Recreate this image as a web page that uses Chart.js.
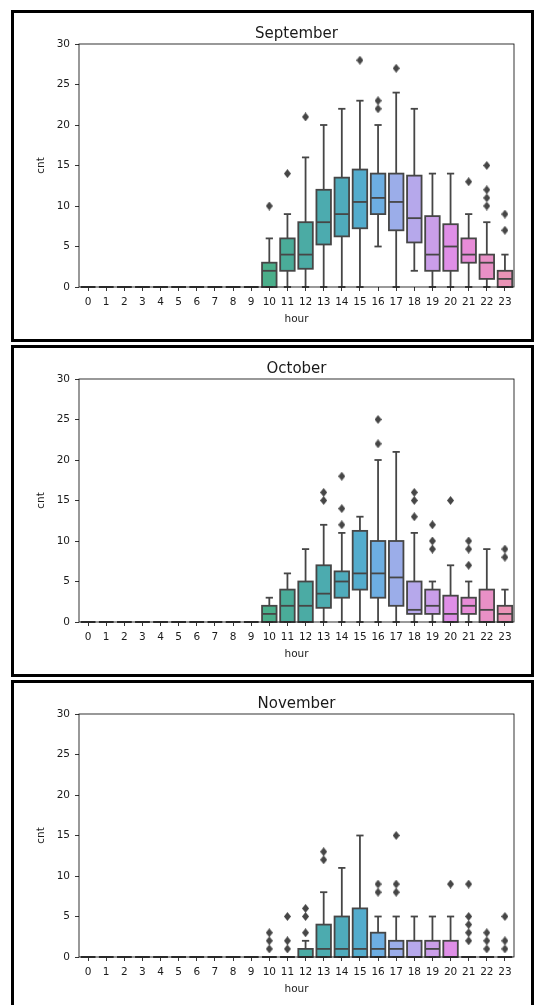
<!DOCTYPE html>
<html>
<head>
<meta charset="utf-8">
<script src="https://cdn.jsdelivr.net/npm/chart.js@4.4.0/dist/chart.umd.min.js"></script>
<style>
  body { margin: 0; background: #fff; width: 534px; height: 1005px; overflow: hidden; position: relative; }
  .frame { position: absolute; left: 11px; width: 523px; border: 3px solid #000; box-sizing: border-box; }
  .panel { position: absolute; left: 0; width: 534px; height: 325px; }
</style>
</head>
<body>
<div class="frame" style="top:10px;height:332px"></div>
<div class="frame" style="top:345px;height:332px"></div>
<div class="frame" style="top:680px;height:400px"></div>
<div class="panel" style="top:10px"><canvas id="sep" width="534" height="325"></canvas></div>
<div class="panel" style="top:345px"><canvas id="oct" width="534" height="325"></canvas></div>
<div class="panel" style="top:680px"><canvas id="nov" width="534" height="325"></canvas></div>
<script>
// ---- data ----
const hours = ['0','1','2','3','4','5','6','7','8','9','10','11','12','13','14','15','16','17','18','19','20','21','22','23'];

// September
const sepQ1  = [0,0,0,0,0,0,0,0,0,0, 0, 2, 2.25, 5.25, 6.25, 7.25, 9, 7, 5.5, 2, 2, 3, 1, 0];
const sepMed = [0,0,0,0,0,0,0,0,0,0, 2, 4, 4, 8, 9, 10.5, 11, 10.5, 8.5, 4, 5, 4, 3, 1];
const sepQ3  = [0,0,0,0,0,0,0,0,0,0, 3, 6, 8, 12, 13.5, 14.5, 14, 14, 13.75, 8.75, 7.75, 6, 4, 2];
const sepLo  = [0,0,0,0,0,0,0,0,0,0, 0, 0, 0, 0, 0, 0, 5, 0, 2, 0, 0, 0, 0, 0];
const sepHi  = [0,0,0,0,0,0,0,0,0,0, 6, 9, 16, 20, 22, 23, 20, 24, 22, 14, 14, 9, 8, 4];
const sepOut = [[],[],[],[],[],[],[],[],[],[], [10], [14], [21], [], [], [28], [22,23], [27], [], [], [], [13], [10,11,12,15], [7,9]];

// October
const octQ1  = [0,0,0,0,0,0,0,0,0,0, 0, 0, 0, 1.75, 3, 4, 3, 2, 1, 1, 0, 1, 0, 0];
const octMed = [0,0,0,0,0,0,0,0,0,0, 1, 2, 2, 3.5, 5, 6, 6, 5.5, 1.5, 2, 1, 2, 1.5, 1];
const octQ3  = [0,0,0,0,0,0,0,0,0,0, 2, 4, 5, 7, 6.25, 11.25, 10, 10, 5, 4, 3.25, 3, 4, 2];
const octLo  = [0,0,0,0,0,0,0,0,0,0, 0, 0, 0, 0, 0, 0, 0, 0, 0, 0, 0, 0, 0, 0];
const octHi  = [0,0,0,0,0,0,0,0,0,0, 3, 6, 9, 12, 11, 13, 20, 21, 11, 5, 7, 5, 9, 4];
const octOut = [[],[],[],[],[],[],[],[],[],[], [], [], [], [15,16], [12,14,18], [], [22,25], [], [13,15,16], [9,10,12], [15], [7,9,10], [], [8,9]];

// November
const novQ1  = [0,0,0,0,0,0,0,0,0,0, 0, 0, 0, 0, 0, 0, 0, 0, 0, 0, 0, 0, 0, 0];
const novMed = [0,0,0,0,0,0,0,0,0,0, 0, 0, 0, 1, 1, 1, 1, 1, 0, 1, 0, 0, 0, 0];
const novQ3  = [0,0,0,0,0,0,0,0,0,0, 0, 0, 1, 4, 5, 6, 3, 2, 2, 2, 2, 0, 0, 0];
const novLo  = [0,0,0,0,0,0,0,0,0,0, 0, 0, 0, 0, 0, 0, 0, 0, 0, 0, 0, 0, 0, 0];
const novHi  = [0,0,0,0,0,0,0,0,0,0, 0, 0, 2, 8, 11, 15, 5, 5, 5, 5, 5, 0, 0, 0];
const novOut = [[],[],[],[],[],[],[],[],[],[], [1,2,3], [1,2,5], [3,5,6], [12,13], [], [], [8,9], [8,9,15], [], [], [9], [2,3,4,5,9], [1,2,3], [1,2,5]];

// ---- seaborn-style husl palette, desaturated to 0.75 ----
const M = [[3.2406, -1.5372, -0.4986], [-0.9689, 1.8758, 0.0415], [0.0557, -0.2040, 1.0570]];
function maxChroma(L, H) {
  const hr = H * Math.PI / 180, sinH = Math.sin(hr), cosH = Math.cos(hr);
  const sub1 = Math.pow(L + 16, 3) / 1560896;
  const sub2 = sub1 > 0.008856 ? sub1 : L / 903.3;
  let result = Infinity;
  M.forEach(([m1, m2, m3]) => {
    const top = (0.99915 * m1 + 1.05122 * m2 + 1.14460 * m3) * sub2;
    const rb = 0.86330 * m3 - 0.17266 * m2;
    const lb = 0.12949 * m3 - 0.38848 * m1;
    const bottom = (rb * sinH + lb * cosH) * sub2;
    [0, 1].forEach(t => {
      const C = L * (top - 1.05122 * t) / (bottom + 0.17266 * sinH * t);
      if (C > 0 && C < result) result = C;
    });
  });
  return result;
}
function huslToRgb(H, S, L) {
  const C = maxChroma(L, H) / 100 * S;
  const hr = H * Math.PI / 180;
  const U = Math.cos(hr) * C, V = Math.sin(hr) * C;
  const t = (L + 16) / 116;
  const Y = Math.pow(t, 3) > 0.008856 ? Math.pow(t, 3) : (116 * t - 16) / 903.3;
  const vU = U / (13 * L) + 0.19784, vV = V / (13 * L) + 0.46834;
  const X = -(9 * Y * vU) / ((vU - 4) * vV - vU * vV);
  const Z = (9 * Y - 15 * vV * Y - vV * X) / (3 * vV);
  return M.map(r => {
    const c = r[0] * X + r[1] * Y + r[2] * Z;
    const v = c <= 0.0031308 ? 12.92 * c : 1.055 * Math.pow(c, 1 / 2.4) - 0.055;
    return Math.min(1, Math.max(0, v));
  });
}
const rgbPal = hours.map((h, i) => {
  const hue = ((i / hours.length + 0.01) % 1) * 359;
  const c = huslToRgb(hue, 0.9 * 99, 0.7 * 99);
  const l = (Math.max(...c) + Math.min(...c)) / 2;
  return { l, c: c.map(v => l + (v - l) * 0.75) };
});
const palette = rgbPal.map(p => 'rgb(' + p.c.map(v => Math.round(v * 255)).join(',') + ')');
const grayV = Math.round(Math.min(...rgbPal.map(p => p.l)) * 0.6 * 255);
const GRAY = 'rgb(' + grayV + ',' + grayV + ',' + grayV + ')';

const FONT = "'DejaVu Sans', sans-serif";
const TXT = '#1a1a1a';

// thin diamond marker for the fliers
function diamond(color) {
  const c = document.createElement('canvas');
  c.width = 7; c.height = 9;
  const g = c.getContext('2d');
  g.fillStyle = color;
  g.beginPath();
  g.moveTo(3.5, 0); g.lineTo(7, 4.5); g.lineTo(3.5, 9); g.lineTo(0, 4.5);
  g.closePath(); g.fill();
  return c;
}
const flierImg = diamond(GRAY);

// whiskers, caps, box outline and median
const boxPlugin = {
  id: 'boxes',
  afterDatasetsDraw(chart, args, o) {
    const { ctx } = chart;
    const y = chart.scales.y;
    const meta = chart.getDatasetMeta(0);
    ctx.save();
    ctx.strokeStyle = GRAY;
    ctx.lineWidth = 1.8;
    meta.data.forEach((bar, i) => {
      const x = bar.x, w = bar.width;
      const p = v => y.getPixelForValue(v);
      const line = (x1, y1, x2, y2) => { ctx.beginPath(); ctx.moveTo(x1, y1); ctx.lineTo(x2, y2); ctx.stroke(); };
      line(x, p(o.q3[i]), x, p(o.hi[i]));
      line(x, p(o.q1[i]), x, p(o.lo[i]));
      line(x - w / 4, p(o.hi[i]), x + w / 4, p(o.hi[i]));
      line(x - w / 4, p(o.lo[i]), x + w / 4, p(o.lo[i]));
      ctx.strokeRect(x - w / 2, p(o.q3[i]), w, p(o.q1[i]) - p(o.q3[i]));
      line(x - w / 2, p(o.med[i]), x + w / 2, p(o.med[i]));
    });
    ctx.restore();
  }
};

// four spines around the axes
const spinePlugin = {
  id: 'spines',
  afterDraw(chart) {
    const { ctx, chartArea: a } = chart;
    ctx.save();
    ctx.strokeStyle = '#000';
    ctx.lineWidth = 0.8;
    ctx.strokeRect(a.left, a.top, a.right - a.left, a.bottom - a.top);
    ctx.restore();
  }
};

function makeChart(id, title, q1, med, q3, lo, hi, out) {
  const fliers = [];
  out.forEach((vals, i) => vals.forEach(v => fliers.push({ x: hours[i], y: v })));
  const tickGrid = { drawOnChartArea: false, drawTicks: true, tickLength: 4, tickWidth: 0.8, tickColor: '#000', offset: false };
  new Chart(document.getElementById(id), {
    type: 'bar',
    data: {
      labels: hours,
      datasets: [{
        data: q1.map((v, i) => [v, q3[i]]),
        backgroundColor: palette,
        borderWidth: 0,
        categoryPercentage: 0.8,
        barPercentage: 1.0
      }, {
        type: 'scatter',
        data: fliers,
        pointStyle: flierImg,
        pointRadius: 3
      }]
    },
    options: {
      responsive: false,
      animation: false,
      events: [],
      layout: { padding: { left: 0, right: 20, top: 0, bottom: 0 } },
      plugins: {
        legend: { display: false },
        tooltip: { enabled: false },
        title: {
          display: true, text: title, color: TXT, fullSize: false,
          font: { family: FONT, size: 15, weight: 'normal' },
          padding: { top: 15, bottom: 1 }
        },
        boxes: { q1, med, q3, lo, hi }
      },
      scales: {
        x: {
          grid: tickGrid,
          border: { display: false },
          ticks: { color: TXT, font: { family: FONT, size: 10.5 }, padding: 5, autoSkip: false, maxRotation: 0 },
          title: { display: true, text: 'hour', color: TXT, font: { family: FONT, size: 10.5 }, padding: { top: 0, bottom: 9 } },
          afterFit(s) { s.height = 48; }
        },
        y: {
          min: 0, max: 30,
          grid: tickGrid,
          border: { display: false },
          ticks: { stepSize: 5, color: TXT, font: { family: FONT, size: 10.5 }, padding: 5 },
          title: { display: true, text: 'cnt', color: TXT, font: { family: FONT, size: 10.5 }, padding: { top: 35, bottom: 0 } },
          afterFit(s) { s.width = 79; }
        }
      }
    },
    plugins: [boxPlugin, spinePlugin]
  });
}

makeChart('sep', 'September', sepQ1, sepMed, sepQ3, sepLo, sepHi, sepOut);
makeChart('oct', 'October', octQ1, octMed, octQ3, octLo, octHi, octOut);
makeChart('nov', 'November', novQ1, novMed, novQ3, novLo, novHi, novOut);
</script>
</body>
</html>
